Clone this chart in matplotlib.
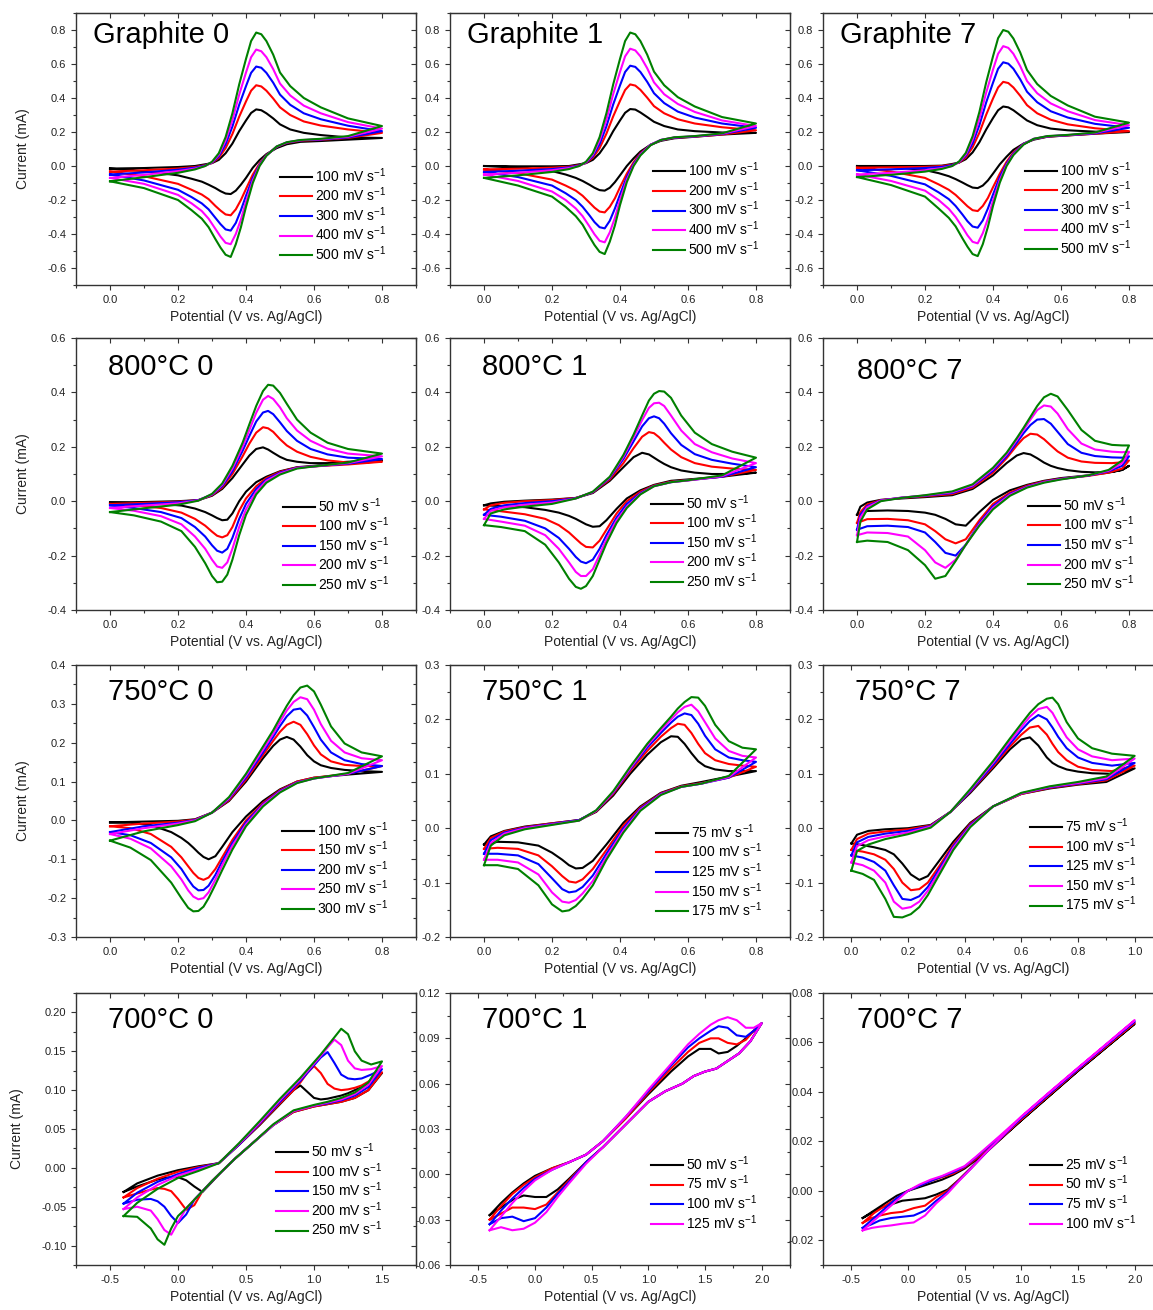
import matplotlib.pyplot as plt
import matplotlib.ticker as mticker

plt.rcParams['font.family'] = ['Liberation Sans', 'DejaVu Sans']
plt.rcParams['mathtext.fontset'] = 'custom'
plt.rcParams['mathtext.rm'] = 'Liberation Sans'
plt.rcParams['mathtext.default'] = 'regular'
plt.rcParams['axes.unicode_minus'] = False

colors = ['#000000', '#FF0000', '#0000FF', '#FF00FF', '#008000']

# ---------------- Graphite ----------------
rates_g = ['100', '200', '300', '400', '500']
xf_g = [0.0, 0.1, 0.2, 0.25, 0.28, 0.3, 0.32, 0.34, 0.36, 0.38, 0.4, 0.415, 0.43, 0.445, 0.46, 0.48, 0.5, 0.53, 0.57, 0.62, 0.7, 0.8]
xr_g = [0.8, 0.7, 0.62, 0.56, 0.52, 0.49, 0.46, 0.44, 0.42, 0.4, 0.385, 0.37, 0.355, 0.34, 0.325, 0.31, 0.29, 0.27, 0.24, 0.2, 0.1, 0.0]

g0_fwd = [
    [-0.015, -0.012, -0.006, 0.0, 0.01, 0.017, 0.036, 0.075, 0.132, 0.205, 0.268, 0.312, 0.333, 0.328, 0.31, 0.28, 0.245, 0.215, 0.195, 0.182, 0.168, 0.165],
    [-0.033, -0.025, -0.015, -0.006, 0.005, 0.018, 0.048, 0.105, 0.188, 0.29, 0.38, 0.443, 0.475, 0.468, 0.443, 0.397, 0.345, 0.3, 0.262, 0.238, 0.215, 0.195],
    [-0.05, -0.038, -0.022, -0.01, 0.003, 0.02, 0.057, 0.128, 0.232, 0.36, 0.47, 0.548, 0.585, 0.578, 0.548, 0.49, 0.42, 0.36, 0.31, 0.275, 0.237, 0.205],
    [-0.07, -0.052, -0.03, -0.015, 0.0, 0.022, 0.066, 0.15, 0.27, 0.42, 0.55, 0.64, 0.685, 0.675, 0.64, 0.57, 0.485, 0.415, 0.355, 0.31, 0.258, 0.22],
    [-0.09, -0.066, -0.04, -0.02, 0.0, 0.025, 0.075, 0.17, 0.31, 0.48, 0.63, 0.735, 0.785, 0.775, 0.735, 0.655, 0.55, 0.47, 0.4, 0.345, 0.28, 0.235],
]
g0_rev = [
    [0.165, 0.155, 0.147, 0.142, 0.128, 0.105, 0.07, 0.035, -0.01, -0.07, -0.11, -0.145, -0.165, -0.162, -0.148, -0.13, -0.11, -0.092, -0.075, -0.055, -0.03, -0.015],
    [0.195, 0.165, 0.154, 0.149, 0.136, 0.112, 0.065, 0.015, -0.05, -0.135, -0.2, -0.255, -0.29, -0.285, -0.262, -0.235, -0.195, -0.168, -0.14, -0.105, -0.06, -0.033],
    [0.205, 0.168, 0.156, 0.151, 0.138, 0.113, 0.063, 0.008, -0.07, -0.175, -0.26, -0.335, -0.38, -0.373, -0.342, -0.305, -0.255, -0.22, -0.183, -0.14, -0.085, -0.05],
    [0.22, 0.172, 0.158, 0.152, 0.139, 0.114, 0.061, 0.004, -0.085, -0.21, -0.315, -0.4, -0.46, -0.452, -0.415, -0.37, -0.31, -0.265, -0.22, -0.17, -0.105, -0.07],
    [0.235, 0.176, 0.16, 0.153, 0.14, 0.115, 0.06, 0.0, -0.1, -0.24, -0.36, -0.46, -0.535, -0.522, -0.48, -0.43, -0.36, -0.31, -0.26, -0.2, -0.13, -0.09],
]

g1_fwd = [
    [0.0, -0.002, -0.002, 0.0, 0.01, 0.017, 0.036, 0.075, 0.132, 0.205, 0.268, 0.313, 0.335, 0.332, 0.315, 0.288, 0.26, 0.235, 0.215, 0.205, 0.197, 0.195],
    [-0.02, -0.016, -0.01, -0.004, 0.005, 0.018, 0.048, 0.105, 0.19, 0.292, 0.383, 0.447, 0.48, 0.473, 0.448, 0.402, 0.352, 0.31, 0.275, 0.25, 0.228, 0.21],
    [-0.035, -0.028, -0.018, -0.008, 0.003, 0.02, 0.057, 0.128, 0.233, 0.362, 0.474, 0.553, 0.59, 0.583, 0.553, 0.495, 0.428, 0.37, 0.32, 0.285, 0.25, 0.225],
    [-0.05, -0.04, -0.025, -0.012, 0.0, 0.022, 0.066, 0.15, 0.272, 0.423, 0.554, 0.645, 0.69, 0.68, 0.645, 0.575, 0.492, 0.422, 0.365, 0.318, 0.268, 0.235],
    [-0.07, -0.055, -0.035, -0.018, 0.0, 0.025, 0.075, 0.17, 0.31, 0.48, 0.63, 0.735, 0.785, 0.775, 0.735, 0.655, 0.555, 0.475, 0.405, 0.35, 0.288, 0.25],
]
g1_rev = [
    [0.195, 0.185, 0.172, 0.163, 0.148, 0.125, 0.085, 0.045, 0.0, -0.055, -0.095, -0.128, -0.145, -0.142, -0.128, -0.11, -0.088, -0.07, -0.05, -0.03, -0.008, 0.0],
    [0.21, 0.185, 0.173, 0.166, 0.152, 0.125, 0.075, 0.022, -0.045, -0.125, -0.19, -0.24, -0.273, -0.268, -0.245, -0.215, -0.175, -0.145, -0.115, -0.08, -0.042, -0.02],
    [0.225, 0.188, 0.174, 0.167, 0.153, 0.125, 0.07, 0.012, -0.065, -0.168, -0.25, -0.322, -0.367, -0.36, -0.33, -0.29, -0.24, -0.2, -0.16, -0.115, -0.065, -0.035],
    [0.235, 0.19, 0.175, 0.168, 0.153, 0.124, 0.066, 0.005, -0.08, -0.2, -0.305, -0.39, -0.449, -0.44, -0.402, -0.355, -0.295, -0.25, -0.2, -0.15, -0.088, -0.05],
    [0.25, 0.192, 0.176, 0.169, 0.153, 0.122, 0.062, 0.0, -0.095, -0.23, -0.35, -0.445, -0.518, -0.505, -0.465, -0.415, -0.345, -0.295, -0.24, -0.18, -0.115, -0.07],
]

g7_fwd = [
    [0.0, 0.0, 0.0, 0.002, 0.012, 0.02, 0.04, 0.08, 0.14, 0.215, 0.282, 0.328, 0.35, 0.345, 0.328, 0.298, 0.268, 0.24, 0.22, 0.21, 0.202, 0.2],
    [-0.01, -0.008, -0.005, 0.0, 0.008, 0.02, 0.05, 0.11, 0.196, 0.302, 0.397, 0.462, 0.495, 0.488, 0.462, 0.413, 0.358, 0.31, 0.272, 0.245, 0.222, 0.205],
    [-0.025, -0.02, -0.012, -0.005, 0.005, 0.022, 0.06, 0.133, 0.24, 0.374, 0.49, 0.572, 0.61, 0.602, 0.572, 0.51, 0.437, 0.375, 0.322, 0.285, 0.248, 0.225],
    [-0.05, -0.04, -0.025, -0.012, 0.0, 0.023, 0.068, 0.155, 0.278, 0.432, 0.567, 0.66, 0.705, 0.695, 0.66, 0.588, 0.5, 0.428, 0.368, 0.322, 0.27, 0.24],
    [-0.065, -0.052, -0.033, -0.017, 0.0, 0.026, 0.077, 0.175, 0.318, 0.492, 0.645, 0.752, 0.80, 0.79, 0.75, 0.668, 0.565, 0.482, 0.412, 0.356, 0.29, 0.255],
]
g7_rev = [
    [0.2, 0.19, 0.18, 0.172, 0.155, 0.132, 0.095, 0.055, 0.01, -0.045, -0.085, -0.115, -0.13, -0.127, -0.113, -0.097, -0.077, -0.06, -0.042, -0.024, -0.006, 0.0],
    [0.205, 0.19, 0.18, 0.173, 0.158, 0.13, 0.08, 0.025, -0.045, -0.125, -0.188, -0.235, -0.265, -0.26, -0.237, -0.208, -0.17, -0.14, -0.108, -0.07, -0.032, -0.01],
    [0.225, 0.192, 0.181, 0.174, 0.159, 0.13, 0.073, 0.014, -0.065, -0.168, -0.25, -0.32, -0.363, -0.356, -0.325, -0.285, -0.235, -0.195, -0.155, -0.108, -0.058, -0.025],
    [0.24, 0.195, 0.182, 0.175, 0.16, 0.128, 0.068, 0.006, -0.082, -0.205, -0.31, -0.395, -0.455, -0.446, -0.408, -0.36, -0.3, -0.252, -0.2, -0.145, -0.088, -0.05],
    [0.255, 0.197, 0.183, 0.176, 0.16, 0.126, 0.064, 0.0, -0.098, -0.235, -0.358, -0.46, -0.53, -0.518, -0.475, -0.425, -0.355, -0.305, -0.25, -0.18, -0.112, -0.065],
]

# ---------------- 800 °C ----------------
rates_800 = ['50', '100', '150', '200', '250']
xf_800_0 = [0.0, 0.1, 0.2, 0.26, 0.3, 0.33, 0.36, 0.39, 0.41, 0.43, 0.45, 0.465, 0.48, 0.5, 0.52, 0.55, 0.59, 0.64, 0.7, 0.8]
xr_800_0 = [0.8, 0.7, 0.6, 0.55, 0.5, 0.46, 0.43, 0.4, 0.38, 0.36, 0.345, 0.33, 0.315, 0.3, 0.28, 0.25, 0.21, 0.15, 0.07, 0.0]
c800_0_fwd = [
    [-0.005, -0.003, 0.0, 0.004, 0.02, 0.045, 0.085, 0.135, 0.168, 0.192, 0.198, 0.19, 0.178, 0.163, 0.152, 0.145, 0.14, 0.14, 0.145, 0.15],
    [-0.01, -0.006, -0.002, 0.004, 0.022, 0.05, 0.1, 0.165, 0.212, 0.252, 0.272, 0.268, 0.255, 0.228, 0.205, 0.182, 0.163, 0.15, 0.142, 0.145],
    [-0.015, -0.01, -0.004, 0.004, 0.024, 0.055, 0.11, 0.185, 0.24, 0.293, 0.326, 0.332, 0.32, 0.29, 0.258, 0.222, 0.192, 0.172, 0.16, 0.155],
    [-0.025, -0.016, -0.008, 0.003, 0.025, 0.06, 0.12, 0.2, 0.262, 0.325, 0.373, 0.387, 0.376, 0.345, 0.305, 0.26, 0.222, 0.193, 0.175, 0.165],
    [-0.04, -0.026, -0.013, 0.002, 0.027, 0.065, 0.13, 0.215, 0.283, 0.35, 0.405, 0.428, 0.425, 0.398, 0.358, 0.3, 0.252, 0.215, 0.192, 0.175],
]
c800_0_rev = [
    [0.15, 0.14, 0.13, 0.125, 0.11, 0.09, 0.07, 0.035, 0.0, -0.045, -0.068, -0.07, -0.062, -0.052, -0.04, -0.027, -0.016, -0.01, -0.007, -0.005],
    [0.145, 0.135, 0.128, 0.124, 0.108, 0.085, 0.055, 0.01, -0.035, -0.095, -0.125, -0.133, -0.127, -0.112, -0.09, -0.065, -0.042, -0.025, -0.015, -0.01],
    [0.155, 0.138, 0.128, 0.123, 0.105, 0.08, 0.045, -0.01, -0.065, -0.135, -0.175, -0.189, -0.182, -0.162, -0.13, -0.095, -0.062, -0.04, -0.025, -0.015],
    [0.165, 0.14, 0.128, 0.122, 0.102, 0.075, 0.035, -0.03, -0.095, -0.175, -0.225, -0.245, -0.24, -0.215, -0.175, -0.13, -0.085, -0.055, -0.035, -0.025],
    [0.175, 0.142, 0.128, 0.12, 0.098, 0.068, 0.025, -0.05, -0.125, -0.215, -0.27, -0.296, -0.298, -0.275, -0.228, -0.168, -0.11, -0.075, -0.052, -0.04],
]

xf_800_1 = [0.0, 0.02, 0.06, 0.12, 0.2, 0.27, 0.32, 0.37, 0.41, 0.44, 0.465, 0.485, 0.5, 0.515, 0.53, 0.55, 0.58, 0.62, 0.67, 0.73, 0.8]
xr_800_1 = [0.8, 0.7, 0.6, 0.55, 0.5, 0.46, 0.42, 0.39, 0.36, 0.34, 0.32, 0.3, 0.285, 0.27, 0.25, 0.22, 0.18, 0.12, 0.05, 0.0]
c800_1_fwd = [
    [-0.015, -0.008, -0.002, 0.002, 0.006, 0.012, 0.03, 0.075, 0.125, 0.162, 0.178, 0.172, 0.16, 0.148, 0.137, 0.125, 0.113, 0.105, 0.1, 0.1, 0.105],
    [-0.03, -0.015, -0.006, 0.0, 0.004, 0.012, 0.032, 0.08, 0.14, 0.195, 0.237, 0.254, 0.25, 0.235, 0.215, 0.19, 0.162, 0.14, 0.127, 0.12, 0.115],
    [-0.05, -0.028, -0.015, -0.007, 0.0, 0.011, 0.033, 0.085, 0.155, 0.22, 0.275, 0.305, 0.312, 0.305, 0.285, 0.25, 0.207, 0.173, 0.152, 0.138, 0.125],
    [-0.065, -0.035, -0.022, -0.013, -0.005, 0.01, 0.034, 0.088, 0.163, 0.235, 0.298, 0.343, 0.36, 0.362, 0.35, 0.315, 0.26, 0.21, 0.18, 0.157, 0.14],
    [-0.088, -0.045, -0.03, -0.02, -0.01, 0.01, 0.035, 0.09, 0.17, 0.245, 0.315, 0.37, 0.395, 0.405, 0.403, 0.38, 0.315, 0.252, 0.21, 0.182, 0.16],
]
c800_1_rev = [
    [0.105, 0.09, 0.08, 0.075, 0.06, 0.04, 0.01, -0.028, -0.07, -0.092, -0.094, -0.085, -0.075, -0.065, -0.054, -0.042, -0.032, -0.022, -0.018, -0.015],
    [0.115, 0.09, 0.078, 0.072, 0.058, 0.035, 0.0, -0.045, -0.105, -0.145, -0.17, -0.168, -0.155, -0.138, -0.115, -0.088, -0.065, -0.048, -0.037, -0.03],
    [0.125, 0.09, 0.077, 0.07, 0.056, 0.03, -0.01, -0.06, -0.125, -0.175, -0.215, -0.228, -0.222, -0.205, -0.175, -0.135, -0.1, -0.072, -0.057, -0.05],
    [0.14, 0.092, 0.076, 0.07, 0.055, 0.027, -0.02, -0.07, -0.14, -0.197, -0.25, -0.275, -0.275, -0.26, -0.225, -0.175, -0.125, -0.09, -0.075, -0.065],
    [0.16, 0.095, 0.077, 0.07, 0.055, 0.025, -0.025, -0.08, -0.155, -0.215, -0.275, -0.312, -0.322, -0.315, -0.285, -0.225, -0.16, -0.11, -0.095, -0.088],
]

xf_800_7 = [0.0, 0.01, 0.03, 0.07, 0.13, 0.2, 0.28, 0.34, 0.4, 0.44, 0.47, 0.49, 0.51, 0.53, 0.55, 0.57, 0.59, 0.62, 0.66, 0.7, 0.75, 0.78, 0.8]
xr_800_7 = [0.8, 0.78, 0.74, 0.68, 0.6, 0.55, 0.5, 0.45, 0.4, 0.36, 0.32, 0.29, 0.26, 0.23, 0.2, 0.15, 0.09, 0.03, 0.0]
c800_7_fwd = [
    [-0.05, -0.02, -0.005, 0.005, 0.01, 0.015, 0.022, 0.045, 0.095, 0.14, 0.168, 0.177, 0.172, 0.158, 0.142, 0.13, 0.122, 0.114, 0.108, 0.106, 0.108, 0.115, 0.13],
    [-0.08, -0.04, -0.012, 0.004, 0.012, 0.018, 0.026, 0.05, 0.105, 0.158, 0.205, 0.232, 0.248, 0.245, 0.228, 0.205, 0.183, 0.16, 0.146, 0.141, 0.14, 0.143, 0.15],
    [-0.105, -0.05, -0.018, 0.003, 0.013, 0.02, 0.03, 0.055, 0.112, 0.165, 0.215, 0.25, 0.28, 0.3, 0.302, 0.285, 0.255, 0.21, 0.178, 0.166, 0.161, 0.16, 0.165],
    [-0.125, -0.06, -0.022, 0.002, 0.013, 0.021, 0.033, 0.058, 0.118, 0.172, 0.225, 0.262, 0.3, 0.335, 0.352, 0.348, 0.322, 0.265, 0.212, 0.19, 0.182, 0.18, 0.182],
    [-0.15, -0.075, -0.03, 0.0, 0.012, 0.022, 0.036, 0.062, 0.123, 0.178, 0.232, 0.27, 0.31, 0.35, 0.382, 0.395, 0.385, 0.335, 0.262, 0.222, 0.207, 0.205, 0.205],
]
c800_7_rev = [
    [0.13, 0.115, 0.105, 0.095, 0.085, 0.075, 0.06, 0.04, 0.005, -0.04, -0.09, -0.085, -0.065, -0.05, -0.042, -0.036, -0.034, -0.036, -0.05],
    [0.15, 0.12, 0.105, 0.093, 0.083, 0.073, 0.057, 0.032, -0.01, -0.07, -0.14, -0.155, -0.14, -0.11, -0.085, -0.07, -0.065, -0.066, -0.08],
    [0.165, 0.13, 0.11, 0.094, 0.082, 0.071, 0.054, 0.027, -0.018, -0.08, -0.16, -0.2, -0.19, -0.15, -0.115, -0.095, -0.09, -0.092, -0.105],
    [0.18, 0.14, 0.112, 0.095, 0.081, 0.07, 0.052, 0.024, -0.024, -0.085, -0.16, -0.215, -0.245, -0.225, -0.18, -0.13, -0.117, -0.115, -0.125],
    [0.205, 0.15, 0.115, 0.095, 0.08, 0.068, 0.05, 0.02, -0.03, -0.09, -0.16, -0.22, -0.275, -0.285, -0.235, -0.18, -0.15, -0.145, -0.15],
]

# ---------------- 750 °C ----------------
rates_750_0 = ['100', '150', '200', '250', '300']
rates_750 = ['75', '100', '125', '150', '175']
xf_750_0 = [0.0, 0.1, 0.2, 0.25, 0.3, 0.35, 0.4, 0.45, 0.48, 0.5, 0.52, 0.54, 0.56, 0.58, 0.6, 0.62, 0.65, 0.69, 0.74, 0.8]
xr_750_0 = [0.8, 0.7, 0.6, 0.55, 0.5, 0.45, 0.4, 0.36, 0.33, 0.31, 0.29, 0.275, 0.26, 0.245, 0.23, 0.21, 0.18, 0.12, 0.06, 0.0]
c750_0_fwd = [
    [-0.005, -0.003, -0.001, 0.003, 0.02, 0.05, 0.1, 0.16, 0.192, 0.208, 0.215, 0.208, 0.19, 0.168, 0.152, 0.142, 0.135, 0.13, 0.127, 0.125],
    [-0.015, -0.008, -0.003, 0.002, 0.02, 0.052, 0.105, 0.168, 0.205, 0.228, 0.246, 0.254, 0.246, 0.222, 0.193, 0.17, 0.152, 0.143, 0.14, 0.14],
    [-0.03, -0.015, -0.006, 0.001, 0.02, 0.055, 0.11, 0.175, 0.215, 0.243, 0.268, 0.285, 0.288, 0.27, 0.24, 0.208, 0.175, 0.155, 0.145, 0.14],
    [-0.035, -0.02, -0.008, 0.0, 0.02, 0.057, 0.115, 0.182, 0.223, 0.254, 0.283, 0.305, 0.317, 0.312, 0.285, 0.248, 0.205, 0.175, 0.16, 0.155],
    [-0.052, -0.028, -0.012, -0.002, 0.02, 0.06, 0.12, 0.19, 0.232, 0.264, 0.295, 0.322, 0.342, 0.347, 0.332, 0.298, 0.242, 0.198, 0.175, 0.165],
]
c750_0_rev = [
    [0.125, 0.118, 0.11, 0.1, 0.08, 0.05, 0.01, -0.03, -0.068, -0.092, -0.1, -0.094, -0.083, -0.07, -0.058, -0.045, -0.03, -0.012, -0.006, -0.005],
    [0.14, 0.12, 0.11, 0.1, 0.078, 0.045, 0.0, -0.05, -0.095, -0.125, -0.147, -0.153, -0.148, -0.135, -0.118, -0.095, -0.068, -0.035, -0.02, -0.015],
    [0.14, 0.12, 0.108, 0.098, 0.076, 0.042, -0.005, -0.058, -0.105, -0.14, -0.168, -0.179, -0.18, -0.17, -0.152, -0.125, -0.095, -0.058, -0.038, -0.03],
    [0.155, 0.12, 0.108, 0.097, 0.074, 0.04, -0.01, -0.065, -0.115, -0.152, -0.185, -0.2, -0.203, -0.196, -0.18, -0.152, -0.118, -0.072, -0.047, -0.035],
    [0.165, 0.122, 0.108, 0.096, 0.072, 0.036, -0.015, -0.075, -0.128, -0.165, -0.2, -0.222, -0.233, -0.234, -0.225, -0.2, -0.16, -0.102, -0.07, -0.052],
]

xf_750_1 = [0.0, 0.02, 0.06, 0.12, 0.2, 0.28, 0.33, 0.38, 0.43, 0.48, 0.52, 0.55, 0.57, 0.59, 0.61, 0.63, 0.65, 0.68, 0.72, 0.76, 0.8]
xr_750_1 = [0.8, 0.72, 0.64, 0.58, 0.52, 0.46, 0.41, 0.36, 0.32, 0.29, 0.27, 0.25, 0.23, 0.2, 0.16, 0.1, 0.04, 0.0]
c750_1_fwd = [
    [-0.03, -0.015, -0.005, 0.003, 0.009, 0.015, 0.03, 0.06, 0.1, 0.135, 0.158, 0.169, 0.168, 0.155, 0.138, 0.123, 0.114, 0.108, 0.105, 0.105, 0.105],
    [-0.038, -0.018, -0.006, 0.002, 0.009, 0.015, 0.031, 0.063, 0.105, 0.142, 0.168, 0.184, 0.192, 0.19, 0.175, 0.155, 0.138, 0.125, 0.118, 0.115, 0.113],
    [-0.047, -0.022, -0.008, 0.001, 0.008, 0.015, 0.032, 0.065, 0.108, 0.148, 0.175, 0.194, 0.205, 0.211, 0.208, 0.192, 0.17, 0.145, 0.13, 0.125, 0.122],
    [-0.058, -0.027, -0.01, 0.0, 0.007, 0.014, 0.032, 0.066, 0.11, 0.152, 0.18, 0.2, 0.213, 0.223, 0.227, 0.215, 0.195, 0.165, 0.142, 0.133, 0.13],
    [-0.068, -0.032, -0.013, -0.002, 0.006, 0.014, 0.033, 0.068, 0.113, 0.155, 0.184, 0.205, 0.22, 0.232, 0.241, 0.24, 0.225, 0.19, 0.16, 0.148, 0.145],
]
c750_1_rev = [
    [0.105, 0.095, 0.085, 0.078, 0.065, 0.04, 0.01, -0.03, -0.06, -0.073, -0.074, -0.068, -0.058, -0.045, -0.032, -0.026, -0.025, -0.03],
    [0.113, 0.093, 0.083, 0.077, 0.064, 0.038, 0.005, -0.04, -0.075, -0.094, -0.1, -0.098, -0.088, -0.07, -0.05, -0.038, -0.036, -0.038],
    [0.122, 0.093, 0.082, 0.076, 0.063, 0.036, 0.0, -0.047, -0.087, -0.108, -0.116, -0.118, -0.112, -0.092, -0.066, -0.05, -0.047, -0.047],
    [0.13, 0.094, 0.082, 0.076, 0.062, 0.034, -0.004, -0.053, -0.097, -0.12, -0.132, -0.137, -0.135, -0.118, -0.085, -0.063, -0.058, -0.058],
    [0.145, 0.096, 0.082, 0.076, 0.061, 0.032, -0.008, -0.058, -0.105, -0.13, -0.143, -0.151, -0.153, -0.14, -0.105, -0.075, -0.068, -0.068],
]

xf_750_7 = [0.0, 0.02, 0.06, 0.12, 0.2, 0.28, 0.35, 0.42, 0.5, 0.56, 0.6, 0.63, 0.66, 0.69, 0.71, 0.73, 0.76, 0.8, 0.85, 0.92, 1.0]
xr_750_7 = [1.0, 0.9, 0.8, 0.7, 0.6, 0.5, 0.42, 0.36, 0.31, 0.27, 0.24, 0.21, 0.18, 0.15, 0.12, 0.08, 0.04, 0.0]
c750_7_fwd = [
    [-0.028, -0.012, -0.005, -0.002, 0.0, 0.006, 0.03, 0.065, 0.11, 0.145, 0.163, 0.167, 0.152, 0.13, 0.12, 0.114, 0.108, 0.104, 0.101, 0.1, 0.11],
    [-0.04, -0.02, -0.01, -0.006, -0.002, 0.005, 0.03, 0.067, 0.113, 0.15, 0.172, 0.185, 0.188, 0.172, 0.155, 0.14, 0.125, 0.113, 0.107, 0.105, 0.115],
    [-0.05, -0.026, -0.016, -0.01, -0.005, 0.004, 0.03, 0.068, 0.116, 0.155, 0.18, 0.197, 0.208, 0.2, 0.185, 0.168, 0.147, 0.13, 0.12, 0.115, 0.12],
    [-0.063, -0.033, -0.022, -0.015, -0.008, 0.003, 0.03, 0.07, 0.12, 0.16, 0.186, 0.205, 0.219, 0.223, 0.212, 0.193, 0.167, 0.145, 0.132, 0.125, 0.128],
    [-0.078, -0.042, -0.03, -0.02, -0.011, 0.001, 0.03, 0.072, 0.123, 0.165, 0.192, 0.212, 0.228, 0.238, 0.24, 0.228, 0.195, 0.165, 0.147, 0.137, 0.133],
]
c750_7_rev = [
    [0.11, 0.085, 0.08, 0.073, 0.063, 0.04, 0.01, -0.025, -0.06, -0.088, -0.095, -0.085, -0.065, -0.048, -0.04, -0.035, -0.031, -0.028],
    [0.115, 0.088, 0.081, 0.074, 0.063, 0.04, 0.008, -0.03, -0.07, -0.1, -0.112, -0.114, -0.1, -0.075, -0.058, -0.048, -0.043, -0.04],
    [0.12, 0.09, 0.082, 0.075, 0.064, 0.04, 0.006, -0.033, -0.075, -0.108, -0.125, -0.132, -0.13, -0.105, -0.078, -0.062, -0.054, -0.05],
    [0.128, 0.092, 0.083, 0.076, 0.064, 0.04, 0.004, -0.036, -0.08, -0.115, -0.135, -0.145, -0.148, -0.135, -0.1, -0.078, -0.068, -0.063],
    [0.133, 0.095, 0.085, 0.077, 0.065, 0.04, 0.002, -0.04, -0.086, -0.123, -0.145, -0.158, -0.164, -0.163, -0.13, -0.095, -0.084, -0.078],
]

# ---------------- 700 °C ----------------
rates_700_0 = ['50', '100', '150', '200', '250']
rates_700_1 = ['50', '75', '100', '125']
rates_700_7 = ['25', '50', '75', '100']

xf_700_0 = [-0.4, -0.3, -0.15, 0.0, 0.15, 0.3, 0.45, 0.6, 0.75, 0.85, 0.9, 0.95, 1.0, 1.05, 1.1, 1.15, 1.2, 1.25, 1.3, 1.35, 1.42, 1.5]
xr_700_0 = [1.5, 1.4, 1.3, 1.2, 1.1, 1.0, 0.85, 0.7, 0.55, 0.42, 0.32, 0.25, 0.18, 0.12, 0.06, 0.0, -0.05, -0.1, -0.15, -0.2, -0.3, -0.4]
c700_0_fwd = [
    [-0.031, -0.02, -0.01, -0.003, 0.002, 0.006, 0.03, 0.055, 0.082, 0.1, 0.106, 0.098, 0.09, 0.088, 0.089, 0.091, 0.093, 0.096, 0.1, 0.104, 0.112, 0.122],
    [-0.038, -0.026, -0.014, -0.005, 0.001, 0.006, 0.03, 0.056, 0.083, 0.1, 0.11, 0.122, 0.131, 0.122, 0.108, 0.102, 0.1, 0.101, 0.103, 0.106, 0.113, 0.123],
    [-0.046, -0.032, -0.018, -0.008, 0.0, 0.006, 0.03, 0.057, 0.085, 0.103, 0.112, 0.122, 0.132, 0.142, 0.149, 0.135, 0.12, 0.115, 0.114, 0.115, 0.12, 0.127],
    [-0.053, -0.038, -0.022, -0.01, -0.002, 0.006, 0.031, 0.058, 0.087, 0.105, 0.114, 0.124, 0.134, 0.144, 0.155, 0.165, 0.158, 0.138, 0.128, 0.126, 0.127, 0.131],
    [-0.062, -0.045, -0.027, -0.013, -0.004, 0.006, 0.032, 0.06, 0.089, 0.107, 0.116, 0.126, 0.136, 0.146, 0.157, 0.168, 0.179, 0.172, 0.15, 0.138, 0.133, 0.137],
]
c700_0_rev = [
    [0.122, 0.1, 0.09, 0.085, 0.082, 0.079, 0.072, 0.055, 0.032, 0.012, -0.005, -0.018, -0.031, -0.024, -0.016, -0.012, -0.012, -0.013, -0.015, -0.018, -0.024, -0.031],
    [0.123, 0.1, 0.09, 0.085, 0.082, 0.079, 0.072, 0.055, 0.032, 0.012, -0.005, -0.017, -0.03, -0.048, -0.054, -0.04, -0.03, -0.027, -0.026, -0.028, -0.033, -0.038],
    [0.127, 0.104, 0.093, 0.087, 0.083, 0.08, 0.073, 0.055, 0.032, 0.012, -0.005, -0.017, -0.03, -0.041, -0.06, -0.071, -0.062, -0.05, -0.043, -0.04, -0.041, -0.046],
    [0.131, 0.107, 0.095, 0.088, 0.084, 0.08, 0.073, 0.055, 0.032, 0.012, -0.005, -0.017, -0.03, -0.041, -0.052, -0.07, -0.086, -0.08, -0.066, -0.055, -0.05, -0.053],
    [0.137, 0.11, 0.097, 0.09, 0.085, 0.081, 0.074, 0.056, 0.032, 0.012, -0.005, -0.017, -0.03, -0.041, -0.052, -0.062, -0.078, -0.099, -0.092, -0.078, -0.063, -0.062],
]

xf_700_1 = [-0.4, -0.3, -0.2, -0.1, 0.0, 0.15, 0.3, 0.45, 0.6, 0.8, 1.0, 1.2, 1.35, 1.45, 1.55, 1.62, 1.7, 1.78, 1.86, 1.93, 2.0]
xr_700_1 = [2.0, 1.9, 1.8, 1.7, 1.6, 1.5, 1.4, 1.3, 1.15, 1.0, 0.8, 0.6, 0.45, 0.3, 0.2, 0.1, 0.0, -0.1, -0.2, -0.3, -0.4]
c700_1_fwd = [
    [-0.027, -0.019, -0.012, -0.006, -0.001, 0.004, 0.008, 0.013, 0.022, 0.037, 0.053, 0.068, 0.078, 0.083, 0.083, 0.08, 0.081, 0.085, 0.09, 0.095, 0.1],
    [-0.03, -0.021, -0.013, -0.007, -0.002, 0.004, 0.008, 0.013, 0.022, 0.037, 0.054, 0.07, 0.081, 0.087, 0.09, 0.09, 0.087, 0.086, 0.089, 0.095, 0.1],
    [-0.033, -0.024, -0.016, -0.009, -0.003, 0.003, 0.008, 0.013, 0.022, 0.038, 0.055, 0.072, 0.084, 0.09, 0.095, 0.098, 0.097, 0.092, 0.091, 0.095, 0.1],
    [-0.037, -0.028, -0.019, -0.011, -0.004, 0.003, 0.008, 0.013, 0.022, 0.038, 0.056, 0.073, 0.086, 0.093, 0.099, 0.102, 0.104, 0.102, 0.097, 0.097, 0.1],
]
c700_1_rev = [
    [0.1, 0.088, 0.08, 0.075, 0.07, 0.068, 0.065, 0.06, 0.055, 0.048, 0.033, 0.018, 0.008, -0.003, -0.01, -0.015, -0.015, -0.014, -0.017, -0.022, -0.027],
    [0.1, 0.088, 0.08, 0.075, 0.07, 0.068, 0.065, 0.06, 0.055, 0.048, 0.033, 0.018, 0.008, -0.004, -0.012, -0.02, -0.023, -0.022, -0.022, -0.026, -0.03],
    [0.1, 0.088, 0.08, 0.075, 0.07, 0.068, 0.065, 0.06, 0.055, 0.048, 0.033, 0.018, 0.008, -0.005, -0.013, -0.022, -0.029, -0.031, -0.028, -0.029, -0.033],
    [0.1, 0.088, 0.08, 0.075, 0.07, 0.068, 0.065, 0.06, 0.055, 0.048, 0.033, 0.018, 0.007, -0.006, -0.015, -0.025, -0.032, -0.036, -0.037, -0.035, -0.037],
]

xf_700_7 = [-0.4, -0.3, -0.2, -0.1, 0.0, 0.1, 0.2, 0.3, 0.4, 0.5, 0.6, 0.8, 1.0, 1.25, 1.5, 1.75, 2.0]
xr_700_7 = [2.0, 1.5, 1.0, 0.7, 0.55, 0.45, 0.35, 0.25, 0.15, 0.05, -0.05, -0.15, -0.25, -0.32, -0.4]
c700_7_fwd = [
    [-0.011, -0.008, -0.005, -0.002, 0.0, 0.0015, 0.003, 0.0045, 0.0065, 0.009, 0.0125, 0.0205, 0.0285, 0.0385, 0.0485, 0.058, 0.0675],
    [-0.013, -0.009, -0.006, -0.003, 0.0, 0.002, 0.004, 0.0055, 0.007, 0.0095, 0.013, 0.021, 0.029, 0.039, 0.049, 0.0585, 0.068],
    [-0.015, -0.011, -0.007, -0.003, 0.0, 0.002, 0.004, 0.0058, 0.0075, 0.0098, 0.0135, 0.0215, 0.0295, 0.0395, 0.0493, 0.059, 0.0685],
    [-0.016, -0.012, -0.008, -0.004, 0.0, 0.0025, 0.0045, 0.006, 0.008, 0.01, 0.0138, 0.0218, 0.03, 0.04, 0.0497, 0.0593, 0.069],
]
c700_7_rev = [
    [0.0675, 0.0485, 0.0285, 0.016, 0.009, 0.0045, 0.0005, -0.0015, -0.003, -0.0035, -0.004, -0.0055, -0.007, -0.009, -0.011],
    [0.068, 0.049, 0.029, 0.016, 0.009, 0.0045, 0.0, -0.0025, -0.006, -0.007, -0.0085, -0.009, -0.01, -0.011, -0.013],
    [0.0685, 0.0493, 0.0295, 0.016, 0.0088, 0.0042, -0.0005, -0.004, -0.008, -0.01, -0.0105, -0.011, -0.012, -0.0135, -0.015],
    [0.069, 0.0497, 0.03, 0.016, 0.0087, 0.004, -0.001, -0.005, -0.01, -0.0128, -0.0133, -0.014, -0.0145, -0.015, -0.016],
]

# panel table: title, scan data, axis ranges
panels = [
    dict(title='Graphite 0', xf=xf_g, xr=xr_g, fwd=g0_fwd, rev=g0_rev, rates=rates_g,
         xlim=(-0.1, 0.9), xstep=0.2, ylim=(-0.7, 0.9), ystep=0.2, yfmt='%.1f'),
    dict(title='Graphite 1', xf=xf_g, xr=xr_g, fwd=g1_fwd, rev=g1_rev, rates=rates_g,
         xlim=(-0.1, 0.9), xstep=0.2, ylim=(-0.7, 0.9), ystep=0.2, yfmt='%.1f'),
    dict(title='Graphite 7', xf=xf_g, xr=xr_g, fwd=g7_fwd, rev=g7_rev, rates=rates_g,
         xlim=(-0.1, 0.9), xstep=0.2, ylim=(-0.7, 0.9), ystep=0.2, yfmt='%.1f'),
    dict(title='800°C 0', xf=xf_800_0, xr=xr_800_0, fwd=c800_0_fwd, rev=c800_0_rev, rates=rates_800,
         xlim=(-0.1, 0.9), xstep=0.2, ylim=(-0.4, 0.6), ystep=0.2, yfmt='%.1f'),
    dict(title='800°C 1', xf=xf_800_1, xr=xr_800_1, fwd=c800_1_fwd, rev=c800_1_rev, rates=rates_800,
         xlim=(-0.1, 0.9), xstep=0.2, ylim=(-0.4, 0.6), ystep=0.2, yfmt='%.1f'),
    dict(title='800°C 7', xf=xf_800_7, xr=xr_800_7, fwd=c800_7_fwd, rev=c800_7_rev, rates=rates_800,
         xlim=(-0.1, 0.9), xstep=0.2, ylim=(-0.4, 0.6), ystep=0.2, yfmt='%.1f'),
    dict(title='750°C 0', xf=xf_750_0, xr=xr_750_0, fwd=c750_0_fwd, rev=c750_0_rev, rates=rates_750_0,
         xlim=(-0.1, 0.9), xstep=0.2, ylim=(-0.3, 0.4), ystep=0.1, yfmt='%.1f'),
    dict(title='750°C 1', xf=xf_750_1, xr=xr_750_1, fwd=c750_1_fwd, rev=c750_1_rev, rates=rates_750,
         xlim=(-0.1, 0.9), xstep=0.2, ylim=(-0.2, 0.3), ystep=0.1, yfmt='%.1f'),
    dict(title='750°C 7', xf=xf_750_7, xr=xr_750_7, fwd=c750_7_fwd, rev=c750_7_rev, rates=rates_750,
         xlim=(-0.1, 1.1), xstep=0.2, ylim=(-0.2, 0.3), ystep=0.1, yfmt='%.1f'),
    dict(title='700°C 0', xf=xf_700_0, xr=xr_700_0, fwd=c700_0_fwd, rev=c700_0_rev, rates=rates_700_0,
         xlim=(-0.75, 1.75), xstep=0.5, ylim=(-0.125, 0.225), ystep=0.05, yfmt='%.2f'),
    dict(title='700°C 1', xf=xf_700_1, xr=xr_700_1, fwd=c700_1_fwd, rev=c700_1_rev, rates=rates_700_1,
         xlim=(-0.75, 2.25), xstep=0.5, ylim=(-0.06, 0.12), ystep=0.03, yfmt='%.2f'),
    dict(title='700°C 7', xf=xf_700_7, xr=xr_700_7, fwd=c700_7_fwd, rev=c700_7_rev, rates=rates_700_7,
         xlim=(-0.75, 2.25), xstep=0.5, ylim=(-0.03, 0.08), ystep=0.02, yfmt='%.2f'),
]

# layout (pixels of the 1153 x 1310 canvas) and in-axes positions of title / legend
W, H = 1153, 1310
col_left = [76, 450, 823]
row_top = [13, 338, 665, 993]
aw, ah = 340, 272
title_xy = [(0.05, 0.92), (0.05, 0.92), (0.05, 0.92),
            (0.094, 0.895), (0.094, 0.895), (0.1, 0.88),
            (0.094, 0.90), (0.094, 0.90), (0.094, 0.90),
            (0.094, 0.90), (0.094, 0.90), (0.1, 0.90)]
legend_xy = [(0.600, 0.259), (0.597, 0.279), (0.594, 0.281),
             (0.609, 0.241), (0.591, 0.252), (0.603, 0.244),
             (0.606, 0.252), (0.606, 0.244), (0.609, 0.265),
             (0.588, 0.276), (0.591, 0.265), (0.609, 0.265)]

spine_col = '#333333'
fig = plt.figure(figsize=(W / 100, H / 100), dpi=100)

for i, p in enumerate(panels):
    r, c = divmod(i, 3)
    ax = fig.add_axes([col_left[c] / W, 1 - (row_top[r] + ah) / H, aw / W, ah / H])

    # full cycle: forward scan then reverse scan
    for k, rate in enumerate(p['rates']):
        ax.plot(p['xf'] + p['xr'], p['fwd'][k] + p['rev'][k], color=colors[k], lw=1.5,
                label=rate + ' mV s$^{-1}$')

    ax.set_xlim(*p['xlim'])
    ax.set_ylim(*p['ylim'])
    ax.xaxis.set_major_locator(mticker.MultipleLocator(p['xstep']))
    ax.xaxis.set_minor_locator(mticker.MultipleLocator(p['xstep'] / 2))
    ax.yaxis.set_major_locator(mticker.MultipleLocator(p['ystep']))
    ax.yaxis.set_minor_locator(mticker.MultipleLocator(p['ystep'] / 2))
    ax.xaxis.set_major_formatter(mticker.FormatStrFormatter('%.1f'))
    ax.yaxis.set_major_formatter(mticker.FormatStrFormatter(p['yfmt']))
    ax.tick_params(which='both', direction='out', labelsize=8, width=0.8,
                   color=spine_col, labelcolor='#222222')
    ax.tick_params(which='major', length=3.5)
    ax.tick_params(which='minor', length=2)
    for s in ax.spines.values():
        s.set_color(spine_col)
        s.set_linewidth(1.0)

    # mirrored ticks pointing inward on top and right
    sx = ax.secondary_xaxis('top')
    sx.xaxis.set_major_locator(mticker.MultipleLocator(p['xstep']))
    sx.xaxis.set_minor_locator(mticker.MultipleLocator(p['xstep'] / 2))
    sx.tick_params(which='both', direction='in', labeltop=False, width=0.8, color=spine_col)
    sx.tick_params(which='major', length=3.5)
    sx.tick_params(which='minor', length=2)
    sx.spines['top'].set_color(spine_col)
    sy = ax.secondary_yaxis('right')
    sy.yaxis.set_major_locator(mticker.MultipleLocator(p['ystep']))
    sy.yaxis.set_minor_locator(mticker.MultipleLocator(p['ystep'] / 2))
    sy.tick_params(which='both', direction='in', labelright=False, width=0.8, color=spine_col)
    sy.tick_params(which='major', length=3.5)
    sy.tick_params(which='minor', length=2)
    sy.spines['right'].set_color(spine_col)

    ax.set_xlabel('Potential (V vs. Ag/AgCl)', fontsize=10, color='#222222')
    if c == 0:
        ax.set_ylabel('Current (mA)', fontsize=10, color='#222222', labelpad=12)

    tx, ty = title_xy[i]
    ax.text(tx, ty, p['title'], transform=ax.transAxes, fontsize=21,
            ha='left', va='center')

    ax.legend(loc='center left', bbox_to_anchor=legend_xy[i], frameon=False,
              fontsize=10, handlelength=2.3, handletextpad=0.25,
              labelspacing=0.07, borderpad=0, borderaxespad=0)

fig.savefig('out.png', dpi=100)
